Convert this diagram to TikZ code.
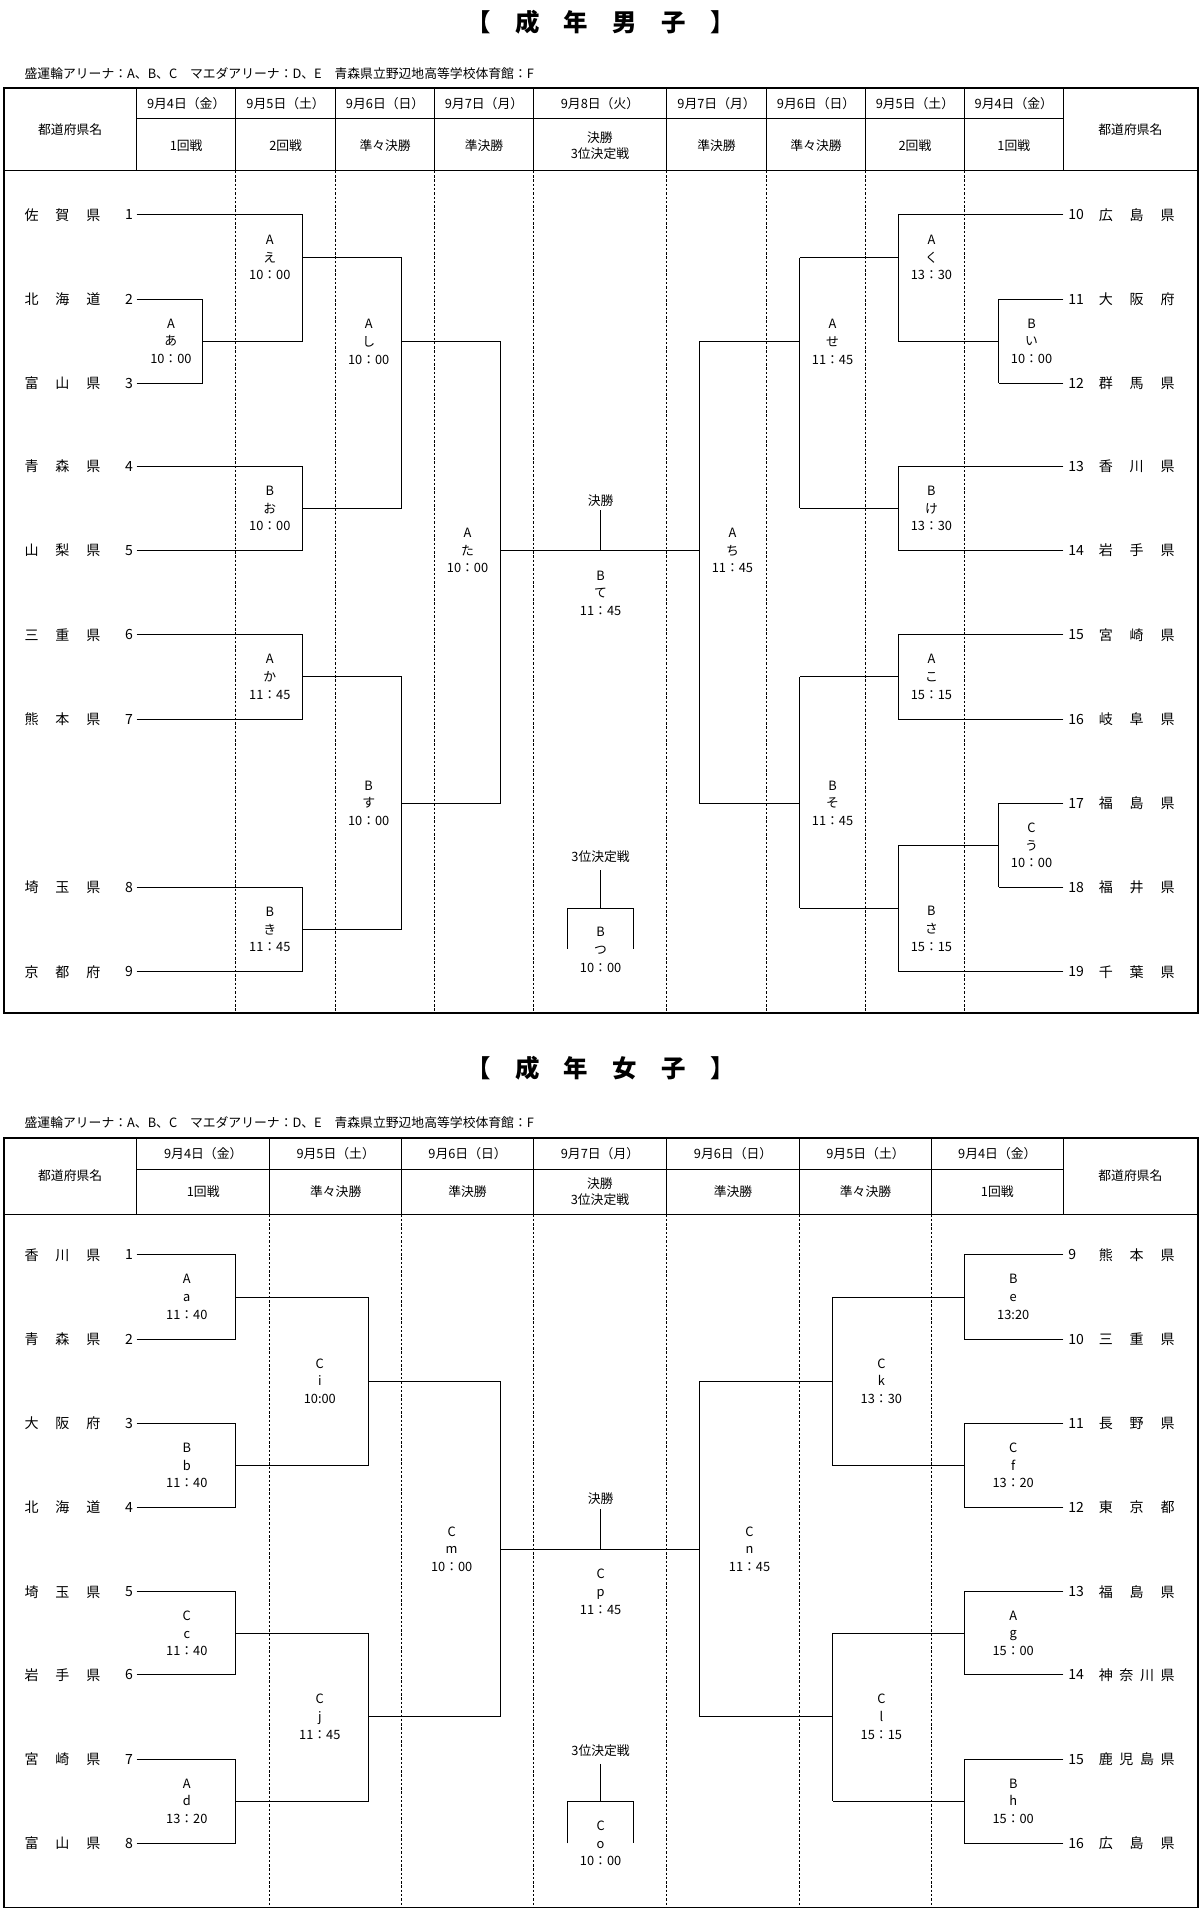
\documentclass[tikz,border=0pt]{standalone}
\usepackage{fontspec}
\setmainfont{Noto Sans CJK JP}
\begin{document}
\begin{tikzpicture}[x=1pt,y=-1pt,
  ln/.style={line width=0.8pt},
  box/.style={line width=1.6pt},
  dsh/.style={line width=0.5pt,dash pattern=on 2pt off 1.5pt},
  lab/.style={align=center,font=\fontsize{10.5}{14.5}\selectfont,inner sep=0pt},
  hd/.style={font=\fontsize{10.5}{13}\selectfont,inner sep=0pt,align=center},
  tm/.style={font=\fontsize{11.5}{13}\selectfont,inner sep=0pt},
  ttl/.style={font=\fontsize{20}{22}\selectfont\bfseries,inner sep=0pt}]
\useasboundingbox (0,0) rectangle (983,1563);
\newcommand\bk[7]{\draw[ln] (#1,#2)--(#1,#3); \draw[ln] (#1,#4)--(#5,#4);
  \node[lab] at (#6,#4) {#7};}
\newcommand\nm[1]{\makebox[62pt]{#1}}
% ================= MEN =================
\node[ttl] (t1) at (492,18) {【　成　年　男　子　】};
\node[hd,anchor=west] (v1) at (20,60) {盛運輪アリーナ：A、B、C　マエダアリーナ：D、E　青森県立野辺地高等学校体育館：F};
\draw[box] (3,72) rectangle (981,830);
\draw[ln] (3,140)--(981,140);
\draw[ln] (112,97)--(871,97);
\foreach \x in {112,193,275,356,437,546,628,709,790,871} \draw[ln] (\x,72)--(\x,140);
\foreach \x in {193,275,356,437,546,628,709,790} \draw[dsh] (\x,140)--(\x,830);
\node[hd] at (57.5,106) {都道府県名};
\node[hd] at (926,106) {都道府県名};
\foreach \c/\d/\r in {152.5/9月4日（金）/1回戦, 234/9月5日（土）/2回戦, 315.5/9月6日（日）/準々決勝, 396.5/9月7日（月）/準決勝, 587/9月7日（月）/準決勝, 668.5/9月6日（日）/準々決勝, 749.5/9月5日（土）/2回戦, 830.5/9月4日（金）/1回戦}
  {\node[hd] at (\c,85) {\d}; \node[hd] at (\c,119) {\r};}
\node[hd] at (491.5,85) {9月8日（火）};
\node[hd] at (491.5,119) {決勝\\3位決定戦};
\foreach \n/\y/\s/\xe in {1/176/佐\hfill 賀\hfill 県/248, 2/245/北\hfill 海\hfill 道/166, 3/314/富\hfill 山\hfill 県/166, 4/382/青\hfill 森\hfill 県/248, 5/451/山\hfill 梨\hfill 県/248, 6/520/三\hfill 重\hfill 県/248, 7/589/熊\hfill 本\hfill 県/248, 8/727/埼\hfill 玉\hfill 県/248, 9/796/京\hfill 都\hfill 府/248}
  {\node[tm,anchor=west] (ml\n) at (20,\y) {\nm{\s}};
   \node[tm,anchor=east] at (109,\y) {\n};
   \draw[ln] (112,\y)--(\xe,\y);}
\foreach \n/\y/\s/\xe in {10/176/広\hfill 島\hfill 県/736, 11/245/大\hfill 阪\hfill 府/818, 12/314/群\hfill 馬\hfill 県/818, 13/382/香\hfill 川\hfill 県/736, 14/451/岩\hfill 手\hfill 県/736, 15/520/宮\hfill 崎\hfill 県/736, 16/589/岐\hfill 阜\hfill 県/736, 17/658/福\hfill 島\hfill 県/818, 18/727/福\hfill 井\hfill 県/818, 19/796/千\hfill 葉\hfill 県/736}
  {\node[tm,anchor=west] (mr\n) at (900,\y) {\nm{\s}};
   \node[tm,anchor=west] at (875,\y) {\n};
   \draw[ln] (871,\y)--(\xe,\y);}
\bk{166}{245}{314}{279.5}{248}{140}{A\\あ\\10：00}
\bk{248}{176}{279.5}{211}{329}{221}{A\\え\\10：00}
\bk{248}{382}{451}{416.5}{329}{221}{B\\お\\10：00}
\bk{329}{211}{416.5}{280}{410}{302}{A\\し\\10：00}
\bk{248}{520}{589}{554.5}{329}{221}{A\\か\\11：45}
\bk{248}{727}{796}{761.5}{329}{221}{B\\き\\11：45}
\bk{329}{554.5}{761.5}{658}{410}{302}{B\\す\\10：00}
\bk{410}{280}{658}{451}{573}{383}{A\\た\\10：00}
\bk{818}{245}{314}{279.5}{736}{845}{B\\い\\10：00}
\bk{736}{176}{279.5}{211}{655}{763}{A\\く\\13：30}
\bk{736}{382}{451}{416.5}{655}{763}{B\\け\\13：30}
\bk{655}{211}{416.5}{280}{573}{682}{A\\せ\\11：45}
\bk{736}{520}{589}{554.5}{655}{763}{A\\こ\\15：15}
\bk{818}{658}{727}{692.5}{736}{845}{C\\う\\10：00}
\draw[ln] (736,692.5)--(736,796) (736,744)--(655,744);
\node[lab] at (763,761) {B\\さ\\15：15};
\bk{655}{554.5}{744}{658}{573}{682}{B\\そ\\11：45}
\draw[ln] (573,280)--(573,658);
\node[lab] at (600,451) {A\\ち\\11：45};
\draw[ln] (492,418)--(492,451);
\node[hd] at (492,410) {決勝};
\node[lab] at (492,486) {B\\て\\11：45};
\node[hd] at (492,702) {3位決定戦};
\draw[ln] (492,713)--(492,744) (465,777)--(465,744)--(519,744)--(519,777);
\node[lab] at (492,778) {B\\つ\\10：00};
% ================= WOMEN =================
\node[ttl] (t2) at (492,875) {【　成　年　女　子　】};
\node[hd,anchor=west] (v2) at (20,920) {盛運輪アリーナ：A、B、C　マエダアリーナ：D、E　青森県立野辺地高等学校体育館：F};
\draw[box] (3,932) rectangle (981,1563);
\draw[ln] (3,995)--(981,995);
\draw[ln] (112,958)--(871,958);
\foreach \x in {112,221,329,437,546,655,763,871} \draw[ln] (\x,932)--(\x,995);
\foreach \x in {221,329,437,546,655,763} \draw[dsh] (\x,995)--(\x,1563);
\node[hd] at (57.5,963) {都道府県名};
\node[hd] at (926,963) {都道府県名};
\foreach \c/\d/\r in {166.5/9月4日（金）/1回戦, 275/9月5日（土）/準々決勝, 383/9月6日（日）/準決勝, 600.5/9月6日（日）/準決勝, 709/9月5日（土）/準々決勝, 817/9月4日（金）/1回戦}
  {\node[hd] at (\c,945) {\d}; \node[hd] at (\c,976) {\r};}
\node[hd] at (491.5,945) {9月7日（月）};
\node[hd] at (491.5,976) {決勝\\3位決定戦};
\foreach \n/\y/\s in {1/1028/香\hfill 川\hfill 県, 2/1097/青\hfill 森\hfill 県, 3/1166/大\hfill 阪\hfill 府, 4/1235/北\hfill 海\hfill 道, 5/1304/埼\hfill 玉\hfill 県, 6/1372/岩\hfill 手\hfill 県, 7/1441/宮\hfill 崎\hfill 県, 8/1510/富\hfill 山\hfill 県}
  {\node[tm,anchor=west] (wl\n) at (20,\y) {\nm{\s}};
   \node[tm,anchor=east] at (109,\y) {\n};
   \draw[ln] (112,\y)--(193,\y);}
\foreach \n/\y/\s in {9/1028/熊\hfill 本\hfill 県, 10/1097/三\hfill 重\hfill 県, 11/1166/長\hfill 野\hfill 県, 12/1235/東\hfill 京\hfill 都, 13/1304/福\hfill 島\hfill 県, 14/1372/神\hfill 奈\hfill 川\hfill 県, 15/1441/鹿\hfill 児\hfill 島\hfill 県, 16/1510/広\hfill 島\hfill 県}
  {\node[tm,anchor=west] (wr\n) at (900,\y) {\nm{\s}};
   \node[tm,anchor=west] at (875,\y) {\n};
   \draw[ln] (871,\y)--(790,\y);}
\bk{193}{1028}{1097}{1062.5}{302}{153}{A\\a\\11：40}
\bk{193}{1166}{1235}{1200.5}{302}{153}{B\\b\\11：40}
\bk{302}{1062.5}{1200.5}{1131.5}{410}{262}{C\\i\\10:00}
\bk{193}{1304}{1372}{1338}{302}{153}{C\\c\\11：40}
\bk{193}{1441}{1510}{1475.5}{302}{153}{A\\d\\13：20}
\bk{302}{1338}{1475.5}{1406.5}{410}{262}{C\\j\\11：45}
\bk{410}{1131.5}{1406.5}{1269}{573}{370}{C\\m\\10：00}
\bk{790}{1028}{1097}{1062.5}{682}{830}{B\\e\\13:20}
\bk{790}{1166}{1235}{1200.5}{682}{830}{C\\f\\13：20}
\bk{682}{1062.5}{1200.5}{1131.5}{573}{722}{C\\k\\13：30}
\bk{790}{1304}{1372}{1338}{682}{830}{A\\g\\15：00}
\bk{790}{1441}{1510}{1475.5}{682}{830}{B\\h\\15：00}
\bk{682}{1338}{1475.5}{1406.5}{573}{722}{C\\l\\15：15}
\draw[ln] (573,1131.5)--(573,1406.5);
\node[lab] at (614,1269) {C\\n\\11：45};
\draw[ln] (492,1236)--(492,1269);
\node[hd] at (492,1228) {決勝};
\node[lab] at (492,1304) {C\\p\\11：45};
\node[hd] at (492,1434) {3位決定戦};
\draw[ln] (492,1445)--(492,1476) (465,1510)--(465,1476)--(519,1476)--(519,1510);
\node[lab] at (492,1510) {C\\o\\10：00};
\end{tikzpicture}
\end{document}
